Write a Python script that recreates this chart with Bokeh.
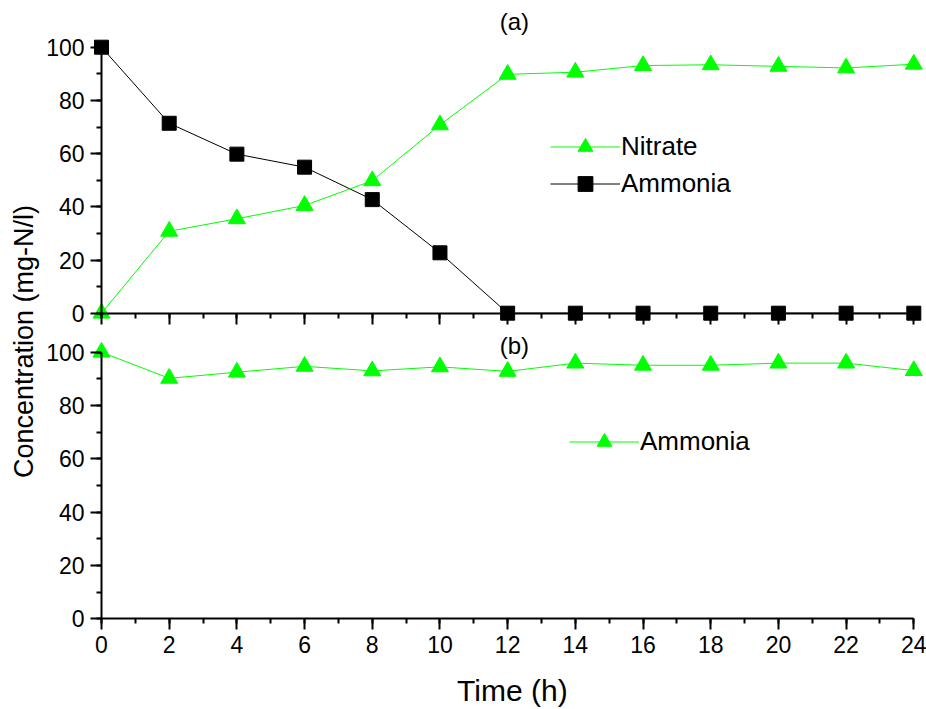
import math
from bokeh.plotting import figure
from bokeh.models import (Range1d, LinearAxis, SingleIntervalTicker, Legend,
                          LegendItem, Label)
from bokeh.embed import file_html
from bokeh.resources import INLINE

# ---------------- data ----------------
time_h = [0, 2, 4, 6, 8, 10, 12, 14, 16, 18, 20, 22, 24]
nitrate_a = [0, 30.8, 35.5, 40.5, 49.8, 70.8, 89.8, 90.6, 93.1, 93.4, 92.8, 92.2, 93.6]
ammonia_a = [100, 71.4, 59.8, 54.9, 42.7, 22.7, 0, 0, 0, 0, 0, 0, 0]
ammonia_b = [100, 90.2, 92.5, 94.7, 93.0, 94.5, 92.8, 95.9, 95.1, 95.1, 95.9, 95.9, 93.1]

x_label = "Time (h)"
y_label = "Concentration (mg-N/l)"
panel_labels = ["(a)", "(b)"]

# ---------------- layout (pixels) ----------------
W, H = 926, 709
X0_PX, X24_PX = 101.0, 913.3          # x = 0 and x = 24
A0_PX, A100_PX = 312.7, 46.7          # panel (a): y = 0 and y = 100
B0_PX, B100_PX = 618.3, 351.7         # panel (b): y = 0 and y = 100

xs = (X24_PX - X0_PX) / 24.0
ya = (A0_PX - A100_PX) / 100.0
yb = (B0_PX - B100_PX) / 100.0

x_range = Range1d(-X0_PX / xs, 24 + (W - X24_PX) / xs)
y_range_b = Range1d(-(H - B0_PX) / yb, B0_PX / yb)
y_range_a = Range1d(-(H - A0_PX) / ya, A0_PX / ya)

FONT = "Liberation Sans"
GREEN = "#00ff00"

p = figure(width=W, height=H, output_backend="svg", toolbar_location=None,
           x_range=x_range, y_range=y_range_b,
           x_axis_type=None, y_axis_type=None,
           min_border=0, min_border_left=0, min_border_right=0,
           min_border_top=0, min_border_bottom=0)
p.extra_y_ranges = {"top": y_range_a}
p.outline_line_color = None
p.background_fill_color = "white"
p.border_fill_color = "white"


def style_axis(ax, interval):
    ax.ticker = SingleIntervalTicker(interval=interval, num_minor_ticks=2)
    ax.axis_line_width = 2
    ax.axis_line_color = "black"
    ax.major_tick_line_color = "black"
    ax.minor_tick_line_color = "black"
    ax.major_tick_line_width = 2
    ax.minor_tick_line_width = 2
    ax.major_tick_out = 11
    ax.major_tick_in = 0
    ax.minor_tick_out = 5
    ax.minor_tick_in = 0
    ax.major_label_text_font = FONT
    ax.major_label_text_font_size = "23px"
    ax.major_label_text_color = "black"
    ax.major_label_standoff = 6
    return ax


x_bottom = style_axis(LinearAxis(fixed_location=0, bounds=(0, 24)), 2)
p.add_layout(x_bottom, "below")

x_top = style_axis(LinearAxis(y_range_name="top", fixed_location=0, bounds=(0, 24)), 2)
x_top.major_label_text_color = None
p.add_layout(x_top, "below")

y_bottom = style_axis(LinearAxis(fixed_location=0, bounds=(0, 100)), 20)
p.add_layout(y_bottom, "left")

y_top = style_axis(LinearAxis(y_range_name="top", fixed_location=0, bounds=(0, 100)), 20)
p.add_layout(y_top, "left")

# ---------------- glyphs ----------------
la = p.line(time_h, ammonia_a, line_color="black", line_width=1, y_range_name="top")
sa = p.scatter(time_h, ammonia_a, marker="square", size=14, color="black",
               y_range_name="top")
ln = p.line(time_h, nitrate_a, line_color=GREEN, line_width=1, y_range_name="top")
sn = p.scatter(time_h, nitrate_a, marker="triangle", size=17, color=GREEN,
               y_range_name="top")
lb = p.line(time_h, ammonia_b, line_color=GREEN, line_width=1)
sb = p.scatter(time_h, ammonia_b, marker="triangle", size=17, color=GREEN)


def style_legend(leg):
    leg.label_text_font = FONT
    leg.label_text_font_size = "26px"
    leg.label_text_color = "black"
    leg.glyph_width = 70
    leg.glyph_height = 37
    leg.label_height = 37
    leg.label_standoff = 1
    leg.spacing = 0
    leg.padding = 0
    leg.margin = 0
    leg.border_line_color = None
    leg.background_fill_alpha = 0
    return leg


leg_a = style_legend(Legend(items=[
    LegendItem(label="Nitrate", renderers=[ln, sn]),
    LegendItem(label="Ammonia", renderers=[la, sa]),
], location=(550, H - 201.5)))
leg_b = style_legend(Legend(items=[
    LegendItem(label="Ammonia", renderers=[lb, sb]),
], location=(569, H - 460.2)))
p.add_layout(leg_a)
p.add_layout(leg_b)

# ---------------- text ----------------
p.add_layout(Label(x=12.2, y=109.8, y_range_name="top", text=panel_labels[0],
                   text_align="center", text_baseline="middle", text_color="black",
                   text_font=FONT, text_font_size="24px"))
p.add_layout(Label(x=12.2, y=102.5, text=panel_labels[1],
                   text_align="center", text_baseline="middle", text_color="black",
                   text_font=FONT, text_font_size="24px"))
p.add_layout(Label(x=-2.3, y=104, text=y_label, angle=math.pi / 2,
                   text_align="center", text_baseline="middle", text_color="black",
                   text_font=FONT, text_font_size="27px"))
p.add_layout(Label(x=12.14, y=-26.9, text=x_label,
                   text_align="center", text_baseline="middle", text_color="black",
                   text_font=FONT, text_font_size="30px"))

open("out.html", "w").write(file_html(p, INLINE))
